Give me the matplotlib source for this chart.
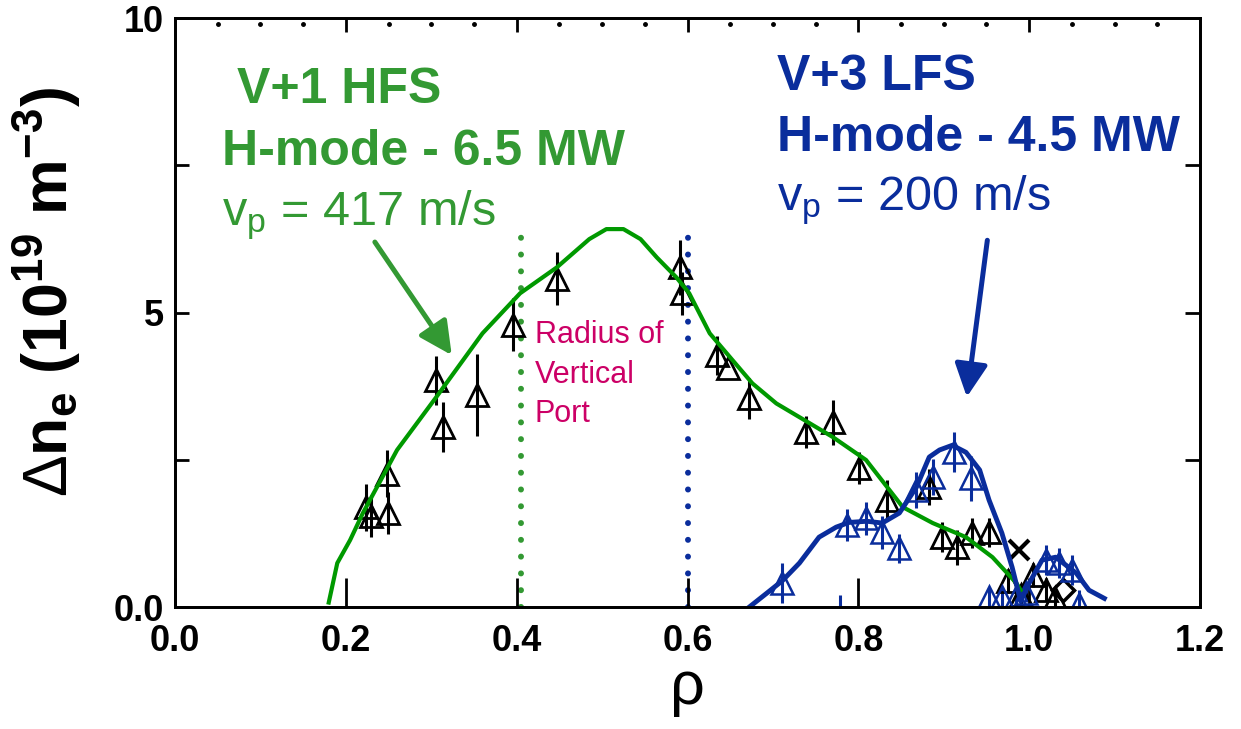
import matplotlib
matplotlib.use('Agg')
from matplotlib import pyplot as plt
import numpy as np

# fonts: Helvetica-like look
plt.rcParams['font.family'] = 'Liberation Sans'
plt.rcParams['mathtext.fontset'] = 'custom'
plt.rcParams['mathtext.rm'] = 'Liberation Sans:weight=normal'
plt.rcParams['mathtext.bf'] = 'Liberation Sans:bold'
plt.rcParams['mathtext.it'] = 'Liberation Sans:italic'

GREEN_TXT = '#339933'
GREEN_LN = '#009900'
BLUE = '#0a2d9c'
MAGENTA = '#cc0066'

# V+1 HFS pellet, black points
hfs_rho = [0.224, 0.229, 0.248, 0.249, 0.306, 0.314, 0.353, 0.396, 0.447,
           0.591, 0.593, 0.634, 0.647, 0.672, 0.739, 0.770, 0.801, 0.834,
           0.883, 0.898, 0.916, 0.933, 0.953, 0.975, 0.990, 1.005, 1.020, 1.030]
hfs_dn = [1.70, 1.55, 2.27, 1.60, 3.85, 3.06, 3.60, 4.80, 5.58,
          5.77, 5.33, 4.28, 4.07, 3.55, 2.97, 3.14, 2.36, 1.82,
          2.04, 1.19, 1.02, 1.26, 1.27, 0.45, 0.20, 0.55, 0.30, 0.15]
hfs_err = [0.40, 0.35, 0.40, 0.36, 0.42, 0.42, 0.70, 0.45, 0.45,
           0.47, 0.36, 0.33, 0.00, 0.35, 0.27, 0.38, 0.27, 0.34,
           0.30, 0.25, 0.30, 0.25, 0.25, 0.20, 0.20, 0.20, 0.20, 0.15]
hfs_x_rho = [0.988]
hfs_x_dn = [0.97]
hfs_dia_rho = [1.039]
hfs_dia_dn = [0.29]

# V+1 HFS fit
hfs_fit_rho = [0.180, 0.190, 0.205, 0.220, 0.260, 0.306, 0.360, 0.404, 0.447,
               0.485, 0.505, 0.525, 0.545, 0.564, 0.587, 0.602, 0.626, 0.653,
               0.676, 0.704, 0.740, 0.770, 0.809, 0.852, 0.887, 0.926, 0.957,
               0.985, 0.990]
hfs_fit_dn = [0.08, 0.75, 1.14, 1.60, 2.67, 3.57, 4.65, 5.33, 5.77,
              6.25, 6.42, 6.42, 6.25, 5.94, 5.60, 5.33, 4.65, 4.19,
              3.80, 3.46, 3.15, 2.89, 2.50, 1.70, 1.43, 1.19, 0.85,
              0.41, 0.29]

# V+3 LFS pellet, blue points
lfs_rho = [0.711, 0.778, 0.787, 0.809, 0.828, 0.848, 0.868, 0.887, 0.912,
           0.932, 0.953, 0.968, 0.985, 0.996, 1.020, 1.035, 1.050, 1.058]
lfs_dn = [0.41, -0.15, 1.39, 1.51, 1.27, 1.00, 1.99, 2.21, 2.63,
          2.19, 0.17, 0.17, 0.17, 0.24, 0.80, 0.75, 0.63, 0.05]
lfs_err = [0.34, 0.35, 0.27, 0.28, 0.28, 0.25, 0.30, 0.30, 0.34,
           0.38, 0.15, 0.15, 0.15, 0.15, 0.25, 0.25, 0.25, 0.25]

# V+3 LFS fit
lfs_fit_rho = [0.672, 0.692, 0.711, 0.731, 0.754, 0.774, 0.789, 0.810, 0.828,
               0.848, 0.868, 0.883, 0.895, 0.910, 0.926, 0.942, 0.953, 0.968,
               0.980, 0.990, 1.000, 1.015, 1.031, 1.055, 1.070, 1.088]
lfs_fit_dn = [0.00, 0.23, 0.45, 0.75, 1.19, 1.36, 1.44, 1.46, 1.43,
              1.60, 2.04, 2.55, 2.67, 2.75, 2.63, 2.33, 1.82, 1.26,
              0.68, 0.10, 0.41, 0.80, 0.85, 0.58, 0.29, 0.15]

# radius of vertical port (dotted lines)
port_rho = [0.405, 0.601]
port_top = [6.40, 6.35]

# arrows: (start, tip)
hfs_arrow = [(0.234, 6.20), (0.324, 4.28)]
lfs_arrow = [(0.951, 6.23), (0.927, 3.57)]

xticks = [0.0, 0.2, 0.4, 0.6, 0.8, 1.0, 1.2]
xticklabels = ['0.0', '0.2', '0.4', '0.6', '0.8', '1.0', '1.2']
yticks = [0, 2.5, 5, 7.5, 10]
yticklabels = ['0.0', '', '5', '', '10']

fig = plt.figure(figsize=(12.41, 7.29), dpi=100)
ax = fig.add_axes([0.141, 0.167, 0.826, 0.808])

# vertical port lines
ax.plot([port_rho[0]] * 2, [0, port_top[0]], color=GREEN_TXT, lw=4.3,
        ls=(0, (0.01, 2.8)), dash_capstyle='round', zorder=1)
ax.plot([port_rho[1]] * 2, [0, port_top[1]], color=BLUE, lw=4.3,
        ls=(0, (0.01, 2.8)), dash_capstyle='round', zorder=1)

# data
ax.errorbar(hfs_rho, hfs_dn, yerr=hfs_err, fmt='^', ms=16, mfc='none',
            mec='black', mew=2, ecolor='black', elinewidth=2.2, capsize=0, zorder=3)
ax.plot(hfs_x_rho, hfs_x_dn, 'x', ms=14, mew=3, color='black', zorder=3)
ax.plot(hfs_dia_rho, hfs_dia_dn, 'D', ms=11, mfc='none', mew=2.5,
        mec='black', zorder=3)
ax.errorbar(lfs_rho, lfs_dn, yerr=lfs_err, fmt='^', ms=16, mfc='none',
            mec=BLUE, mew=1.8, ecolor=BLUE, elinewidth=2.2, capsize=0, zorder=3)

ax.plot(hfs_fit_rho, hfs_fit_dn, color=GREEN_LN, lw=3, zorder=4)
ax.plot(lfs_fit_rho, lfs_fit_dn, color=BLUE, lw=3.5, zorder=4)

# arrows
for arr, col in ((hfs_arrow, GREEN_TXT), (lfs_arrow, BLUE)):
    ax.annotate('', xy=arr[1], xytext=arr[0],
                arrowprops=dict(arrowstyle='-|>,head_length=0.4,head_width=0.2',
                                mutation_scale=50, lw=3.6, color=col,
                                shrinkA=0, shrinkB=0))

# annotations
ax.text(0.0725, 8.56, 'V+1 HFS', color=GREEN_TXT, fontsize=36,
        fontweight='bold', va='baseline')
ax.text(0.055, 7.50, 'H-mode - 6.5 MW', color=GREEN_TXT, fontsize=36,
        fontweight='bold', va='baseline')
ax.text(0.055, 6.49, r'v$_\mathrm{p}$ = 417 m/s', color=GREEN_TXT,
        fontsize=35, va='baseline')
ax.text(0.705, 8.78, 'V+3 LFS', color=BLUE, fontsize=36,
        fontweight='bold', va='baseline')
ax.text(0.705, 7.75, 'H-mode - 4.5 MW', color=BLUE, fontsize=36,
        fontweight='bold', va='baseline')
ax.text(0.705, 6.74, r'v$_\mathrm{p}$ = 200 m/s', color=BLUE,
        fontsize=35, va='baseline')
ax.text(0.421, 4.48, 'Radius of', color=MAGENTA, fontsize=22, va='baseline')
ax.text(0.421, 3.80, 'Vertical', color=MAGENTA, fontsize=22, va='baseline')
ax.text(0.421, 3.14, 'Port', color=MAGENTA, fontsize=22, va='baseline')

# axes
ax.set_xlim(0, 1.2)
ax.set_ylim(0, 10)
ax.set_xticks(xticks, xticklabels)
ax.set_yticks(yticks, yticklabels)
ax.tick_params(axis='x', direction='in', length=21, width=2, top=False,
               labelsize=26, pad=12)
ax.tick_params(axis='y', direction='in', length=10, width=2, right=False,
               labelsize=26, pad=8)
for lbl in ax.get_xticklabels() + ax.get_yticklabels():
    lbl.set_fontweight('bold')
for sp in ax.spines.values():
    sp.set_linewidth(1.8)

# shorter ticks on the top and right sides
top = ax.twiny()
top.set_xlim(ax.get_xlim())
top.set_xticks(xticks[1:-1], [''] * 5)
top.tick_params(axis='x', direction='in', length=10, width=2)
right = ax.twinx()
right.set_ylim(ax.get_ylim())
right.set_yticks(yticks[1:-1], [''] * 3)
right.tick_params(axis='y', direction='in', length=11, width=2)
for extra in (top, right):
    for sp in extra.spines.values():
        sp.set_linewidth(1.8)

# small dot-like minor ticks along the top, drawn as points under the spine
minor_rho = [r for r in np.arange(0.05, 1.2, 0.05) if abs(r / 0.2 - round(r / 0.2)) > 0.01]
ax.plot(minor_rho, [0.99] * len(minor_rho), ls='none', marker='o', ms=2.5,
        color='black', transform=ax.get_xaxis_transform(), clip_on=False)

ax.set_ylabel(r'$\Delta$n$_\mathbf{e}$ (10$^\mathbf{19}$ m$^\mathbf{-3}$)',
              fontsize=45, fontweight='bold')
ax.yaxis.set_label_coords(-0.09, 0.535)
ax.set_xlabel('ρ', fontsize=44)
ax.xaxis.set_label_coords(0.5, -0.09)

fig.savefig('out.png', dpi=100)
